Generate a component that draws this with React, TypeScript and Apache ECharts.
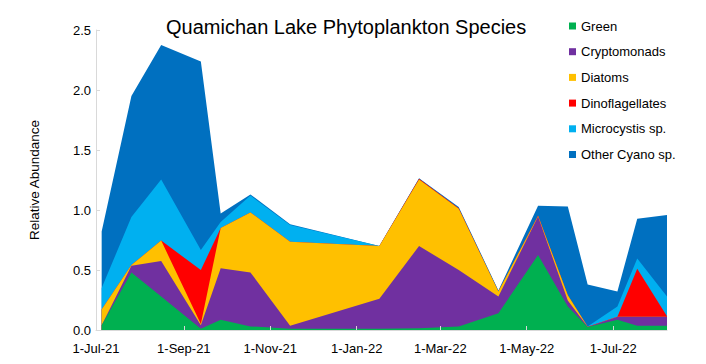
import { useEffect, useRef } from 'react';
import * as echarts from 'echarts';

const sampleDates = [
  '2021-07-05', '2021-07-26', '2021-08-16', '2021-09-13', '2021-09-27', '2021-10-18',
  '2021-11-15', '2022-01-17', '2022-02-14', '2022-03-14', '2022-04-11', '2022-05-09',
  '2022-05-30', '2022-06-13', '2022-07-04', '2022-07-18', '2022-08-08',
];
const green = [0.04, 0.48, 0.28, 0.01, 0.085, 0.03, 0.01, 0.01, 0.015, 0.03, 0.14, 0.625, 0.195, 0.025, 0.085, 0.035, 0.035];
const cryptomonads = [0.0, 0.056, 0.295, 0.03, 0.43, 0.45, 0.026, 0.25, 0.685, 0.47, 0.14, 0.32, 0.05, 0.003, 0.025, 0.075, 0.075];
const diatoms = [0.13, 0.005, 0.17, 0.01, 0.335, 0.5, 0.7, 0.44, 0.555, 0.51, 0.04, 0.005, 0.045, 0, 0, 0, 0];
const dinoflagellates = [0, 0, 0, 0.45, 0, 0, 0, 0, 0.005, 0.005, 0, 0.005, 0, 0, 0, 0.4, 0.005];
const microcystis = [0.18, 0.4, 0.51, 0.167, 0.05, 0.14, 0.14, 0, 0, 0, 0.005, 0, 0, 0.002, 0.085, 0.085, 0.165];
const otherCyano = [0.47, 1.01, 1.12, 1.57, 0.07, 0.01, 0.005, 0, 0.004, 0.01, 0.005, 0.08, 0.74, 0.35, 0.125, 0.333, 0.678];

const seriesNames = ['Green', 'Cryptomonads', 'Diatoms', 'Dinoflagellates', 'Microcystis sp.', 'Other Cyano sp.'];
const seriesColors = ['#00B050', '#7030A0', '#FFC000', '#FF0000', '#00B0F0', '#0070C0'];
const seriesValues = [green, cryptomonads, diatoms, dinoflagellates, microcystis, otherCyano];

const axisStart = '2021-07-01';
const axisEnd = '2022-08-08';
const xTickDates = ['2021-07-01', '2021-09-01', '2021-11-01', '2022-01-01', '2022-03-01', '2022-05-01', '2022-07-01'];

const MONTHS = ['Jan', 'Feb', 'Mar', 'Apr', 'May', 'Jun', 'Jul', 'Aug', 'Sep', 'Oct', 'Nov', 'Dec'];

function ts(s: string): number {
  const [y, m, d] = s.split('-').map(Number);
  return new Date(y, m - 1, d).getTime();
}
function fmtDate(v: number): string {
  const d = new Date(v);
  return `${d.getDate()}-${MONTHS[d.getMonth()]}-${String(d.getFullYear()).slice(2)}`;
}

const FONT = 'Liberation Sans';

export default function App() {
  const ref = useRef<HTMLDivElement>(null);
  useEffect(() => {
    if (!ref.current) return;
    const chart = echarts.init(ref.current, undefined, { renderer: 'svg' });
    const tickTs = xTickDates.map(ts);

    // cumulative stack (bottom -> top), computed from the data arrays
    const cumulative: number[][] = [];
    seriesValues.forEach((vals, i) => {
      cumulative.push(vals.map((v, j) => v + (i > 0 ? cumulative[i - 1][j] : 0)));
    });
    // draw top-most cumulative first so lower layers paint over it
    const order = seriesNames.map((_, i) => i).reverse();

    chart.setOption({
      animation: false,
      backgroundColor: '#ffffff',
      title: {
        text: 'Quamichan Lake Phytoplankton Species',
        left: 166,
        top: 17,
        padding: 0,
        textStyle: { fontFamily: FONT, fontSize: 20, fontWeight: 'normal', color: '#000' },
      },
      legend: {
        orient: 'vertical',
        left: 569,
        top: 19.5,
        padding: 0,
        icon: 'rect',
        itemWidth: 7,
        itemHeight: 7,
        itemGap: 12.7,
        textStyle: { fontFamily: FONT, fontSize: 13, color: '#000', lineHeight: 13 },
        data: seriesNames,
      },
      grid: { left: 96, right: 39, top: 30, bottom: 34, containLabel: false },
      xAxis: {
        type: 'value',
        z: 5,
        min: ts(axisStart),
        max: ts(axisEnd),
        axisLine: { show: true, onZero: false, lineStyle: { color: '#d9d9d9', width: 1 } },
        axisTick: {
          show: true,
          inside: true,
          length: 4,
          customValues: tickTs,
          lineStyle: { color: '#d9d9d9' },
        },
        axisLabel: {
          customValues: tickTs,
          formatter: (v: number) => fmtDate(v),
          fontFamily: FONT,
          fontSize: 13,
          color: '#000',
          margin: 12,
          hideOverlap: false,
        },
        splitLine: { show: false },
      },
      yAxis: {
        type: 'value',
        min: 0,
        max: 2.5,
        interval: 0.5,
        name: 'Relative Abundance',
        nameLocation: 'middle',
        nameGap: 55,
        nameTextStyle: { fontFamily: FONT, fontSize: 13.5, color: '#000' },
        axisLine: { show: true, lineStyle: { color: '#d9d9d9', width: 1 } },
        axisTick: { show: true, inside: true, length: 4, lineStyle: { color: '#d9d9d9' } },
        axisLabel: {
          formatter: (v: number) => v.toFixed(1),
          fontFamily: FONT,
          fontSize: 13,
          color: '#000',
          margin: 5,
        },
        splitLine: { show: false },
      },
      series: order.map((i) => ({
        name: seriesNames[i],
        type: 'line',
        symbol: 'none',
        showSymbol: false,
        color: seriesColors[i],
        lineStyle: { width: 0, color: seriesColors[i] },
        areaStyle: { color: seriesColors[i], opacity: 1, origin: 'start' },
        itemStyle: { color: seriesColors[i] },
        data: sampleDates.map((d, j) => [ts(d), cumulative[i][j]]),
      })),
    });
    return () => chart.dispose();
  }, []);
  return <div ref={ref} style={{ width: 706, height: 364, position: 'absolute', left: 0, top: 0 }} />;
}
